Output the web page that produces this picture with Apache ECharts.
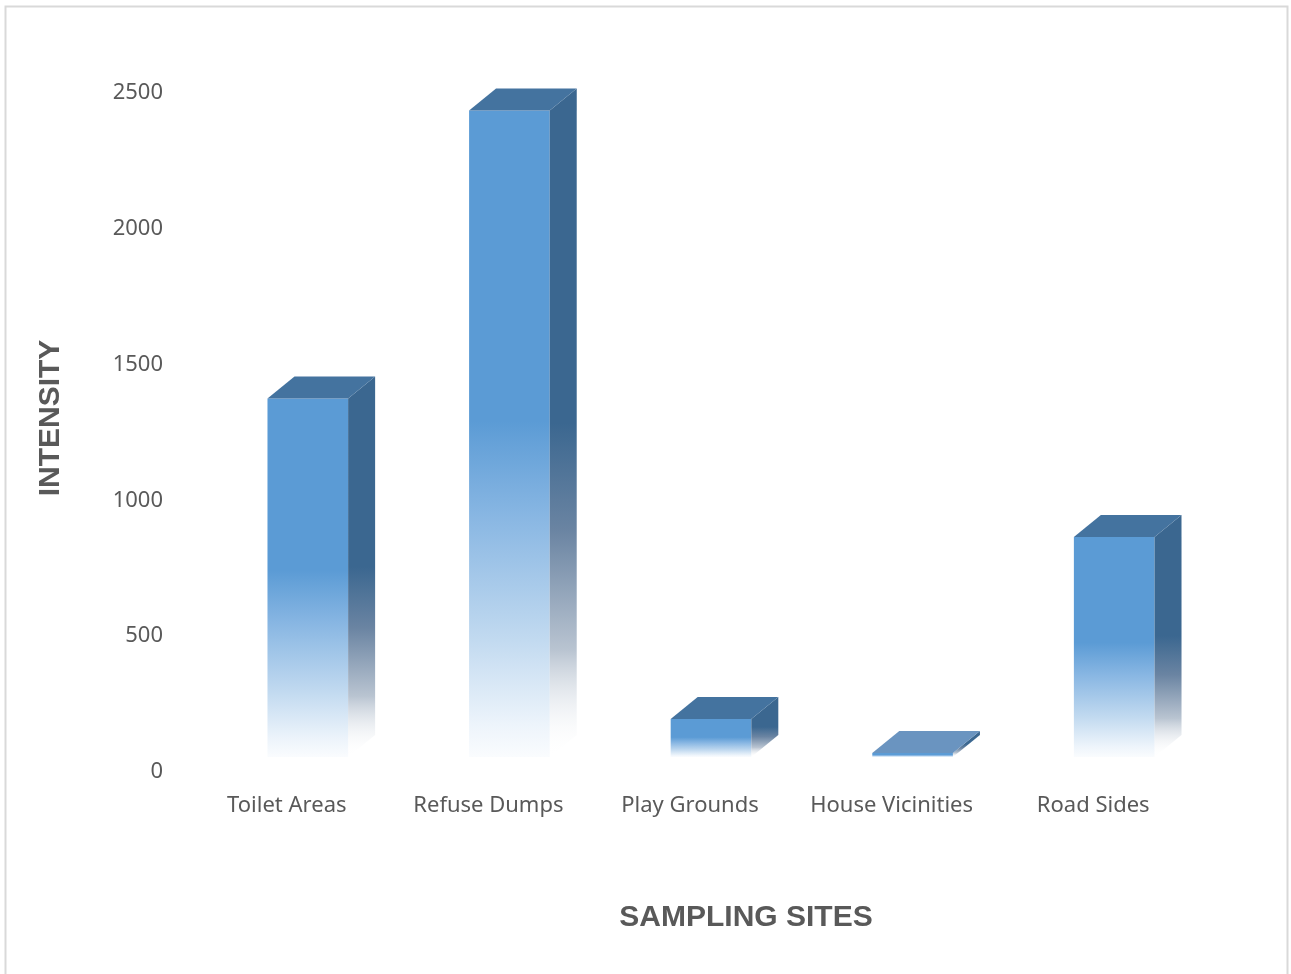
<!DOCTYPE html>
<html>
<head>
<meta charset="utf-8">
<title>Intensity by Sampling Site</title>
<script src="https://cdn.jsdelivr.net/npm/echarts@6/dist/echarts.min.js"></script>
<style>
  html, body { margin: 0; padding: 0; background: #ffffff; }
  #chart { width: 1291px; height: 974px; }
</style>
</head>
<body>
<div id="chart"></div>
<script>
// Sampling sites and measured intensity
const categories = ['Toilet Areas', 'Refuse Dumps', 'Play Grounds', 'House Vicinities', 'Road Sides'];
const intensity = [1320, 2380, 140, 15, 810];
const yTicks = { min: 0, max: 2500, interval: 500 };

const chart = echarts.init(document.getElementById('chart'));

// Pseudo-3D column: front face, right side face and top face.
// The column sits a little behind the floor front edge (shiftX/shiftY).
const depthX = 27, depthY = 22;
const shiftX = 21, shiftY = -15;

function renderColumn(params, api) {
  const idx = api.value(0);
  const val = api.value(1);
  const top = api.coord([idx, val]);
  const base = api.coord([idx, 0]);
  const bandW = api.size([1, 0])[0];
  const w = bandW * 0.4;
  const cx = top[0] + shiftX;
  const x1 = cx - w / 2, x2 = cx + w / 2;
  const yTop = top[1] + shiftY;
  const yBase = base[1] + shiftY;
  const h = Math.max(yBase - yTop, 1);

  const frontFill = new echarts.graphic.LinearGradient(0, 0, 0, 1, [
    { offset: 0, color: '#5b9bd5' },
    { offset: 0.48, color: '#5b9bd5' },
    { offset: 0.62, color: '#86b5e2' },
    { offset: 0.82, color: '#c2daf0' },
    { offset: 0.95, color: '#edf4fb' },
    { offset: 1, color: '#fafcfe' }
  ]);
  const sideFill = new echarts.graphic.LinearGradient(0, 0, 0, 1, [
    { offset: 0, color: '#3b6790' },
    { offset: 0.5, color: '#3b6790' },
    { offset: 0.66, color: '#6a84a2' },
    { offset: 0.84, color: '#b9c4d1' },
    { offset: 1, color: 'rgba(255,255,255,0)' }
  ]);

  const children = [
    {
      type: 'rect',
      shape: { x: x1, y: yTop, width: w, height: h },
      style: { fill: frontFill }
    },
    {
      type: 'polygon',
      shape: { points: [[x2, yTop], [x2 + depthX, yTop - depthY], [x2 + depthX, yBase - depthY], [x2, yBase]] },
      style: { fill: sideFill }
    },
    {
      type: 'polygon',
      shape: { points: [[x1, yTop], [x1 + depthX, yTop - depthY], [x2 + depthX, yTop - depthY], [x2, yTop]] },
      style: { fill: val < 50 ? '#6a94c0' : '#44739f' }
    }
  ];
  return { type: 'group', children: children };
}

const labelColor = '#595959';

chart.setOption({
  backgroundColor: '#ffffff',
  animation: false,
  grid: { left: 186, right: 97, top: 93, bottom: 202 },
  xAxis: {
    type: 'category',
    data: categories,
    axisLine: { show: false },
    axisTick: { show: false },
    axisLabel: { color: labelColor, fontFamily: 'Noto Sans', fontSize: 22, margin: 23, interval: 0 }
  },
  yAxis: {
    type: 'value',
    min: yTicks.min,
    max: yTicks.max,
    interval: yTicks.interval,
    axisLine: { show: false },
    axisTick: { show: false },
    splitLine: { show: false },
    axisLabel: {
      color: labelColor, fontFamily: 'Noto Sans', fontSize: 22, margin: 23,
      formatter: (v) => String(v)
    }
  },
  graphic: [
    {
      type: 'rect',
      left: 3, top: 4,
      shape: { width: 1282, height: 990 },
      style: { fill: 'none', stroke: '#d9d9d9', lineWidth: 2 },
      silent: true
    },
    {
      type: 'text',
      x: 51, y: 418,
      rotation: Math.PI / 2,
      style: {
        text: 'INTENSITY',
        fill: labelColor,
        font: 'bold 30px "Liberation Sans", Arial, sans-serif',
        align: 'center',
        verticalAlign: 'middle'
      }
    },
    {
      type: 'text',
      x: 746, y: 918,
      style: {
        text: 'SAMPLING SITES',
        fill: labelColor,
        font: 'bold 30px "Liberation Sans", Arial, sans-serif',
        align: 'center',
        verticalAlign: 'middle'
      }
    }
  ],
  series: [{
    type: 'custom',
    renderItem: renderColumn,
    encode: { x: 0, y: 1 },
    data: intensity.map((v, i) => [i, v])
  }]
});
</script>
</body>
</html>
